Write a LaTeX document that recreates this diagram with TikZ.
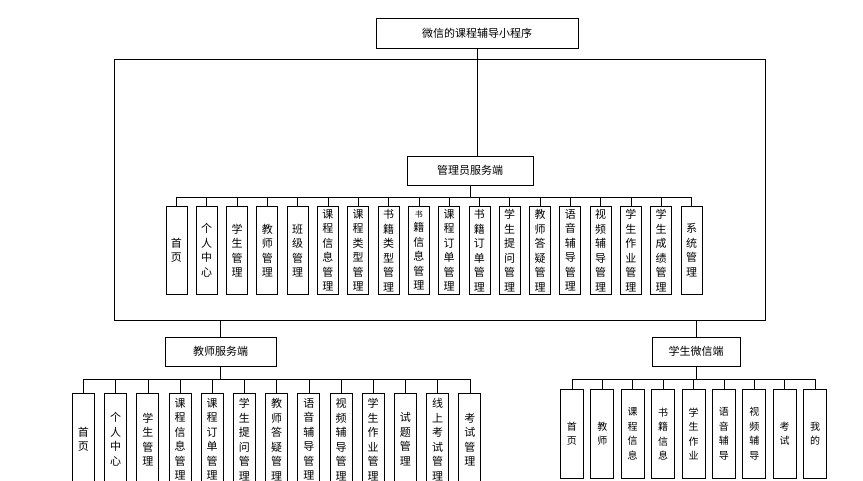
\documentclass[tikz,border=0pt]{standalone}
\usepackage{fontspec}
\setmainfont{Noto Sans CJK SC}
\begin{document}
\begin{tikzpicture}[x=1pt,y=-1pt,
  hbox/.style={draw,line width=0.8pt,font=\fontsize{11}{13}\selectfont,inner sep=0pt},
  vbox/.style={draw,line width=0.8pt,anchor=north west,inner sep=0pt,align=center,font=\fontsize{11}{14.5}\selectfont},
  ln/.style={line width=0.6pt}]
\useasboundingbox (0,0) rectangle (863,480);
\node[hbox,minimum width=202pt,minimum height=30pt] (top) at (477,33) {微信的课程辅导小程序};
\draw[ln] (114,59) rectangle (765,320);
\node[hbox,minimum width=126pt,minimum height=29pt] (adm) at (470,170.5) {管理员服务端};
\draw[ln] (top.south) -- (adm.north -| top.south);
% admin
\foreach \t [count=\i] in {首\\页,个\\人\\中\\心,学\\生\\管\\理,教\\师\\管\\理,班\\级\\管\\理,课\\程\\信\\息\\管\\理,课\\程\\类\\型\\管\\理,书\\籍\\类\\型\\管\\理,{\fontsize{8}{11.5}\selectfont 书\\籍\\信\\息\\管\\理},课\\程\\订\\单\\管\\理,书\\籍\\订\\单\\管\\理,学\\生\\提\\问\\管\\理,教\\师\\答\\疑\\管\\理,语\\音\\辅\\导\\管\\理,视\\频\\辅\\导\\管\\理,学\\生\\作\\业\\管\\理,学\\生\\成\\绩\\管\\理,系\\统\\管\\理}{
  \node[vbox,minimum width=21pt,minimum height=88pt] (a\i) at ({165.5+30.3*(\i-1)},206) {\t};
  \draw[ln] (a\i.north) -- ++(0,-9);
}
\draw[ln] ([yshift=9pt]a1.north) -- ([yshift=9pt]a18.north);
\draw[ln] (adm.south) -- (adm.south |- 0,197);
% teacher
\node[hbox,minimum width=111pt,minimum height=29pt] (tea) at (220.5,351.5) {教师服务端};
\draw[ln] (tea.north) -- (220.5,320);
\foreach \t [count=\i] in {首\\页,个\\人\\中\\心,学\\生\\管\\理,课\\程\\信\\息\\管\\理,课\\程\\订\\单\\管\\理,学\\生\\提\\问\\管\\理,教\\师\\答\\疑\\管\\理,语\\音\\辅\\导\\管\\理,视\\频\\辅\\导\\管\\理,学\\生\\作\\业\\管\\理,试\\题\\管\\理,线\\上\\考\\试\\管\\理,考\\试\\管\\理}{
  \node[vbox,minimum width=22pt,minimum height=92pt] (t\i) at ({72+32.2*(\i-1)},393) {\t};
  \draw[ln] (t\i.north) -- ++(0,-14);
}
\draw[ln] ([yshift=14pt]t1.north) -- ([yshift=14pt]t13.north);
\draw[ln] (tea.south) -- (tea.south |- 0,379);
% student
\node[hbox,minimum width=88pt,minimum height=29pt] (stu) at (696,351.5) {学生微信端};
\draw[ln] (stu.north) -- (696,320);
\foreach \t [count=\i] in {首\\页,教\\师,课\\程\\信\\息,书\\籍\\信\\息,学\\生\\作\\业,语\\音\\辅\\导,视\\频\\辅\\导,考\\试,我\\的}{
  \node[vbox,minimum width=23pt,minimum height=89pt,font=\fontsize{10}{14.5}\selectfont] (s\i) at ({560+30.4*(\i-1)},389) {\t};
  \draw[ln] (s\i.north) -- ++(0,-10);
}
\draw[ln] ([yshift=10pt]s1.north) -- ([yshift=10pt]s9.north);
\draw[ln] (stu.south) -- (stu.south |- 0,379);
\end{tikzpicture}
\end{document}
